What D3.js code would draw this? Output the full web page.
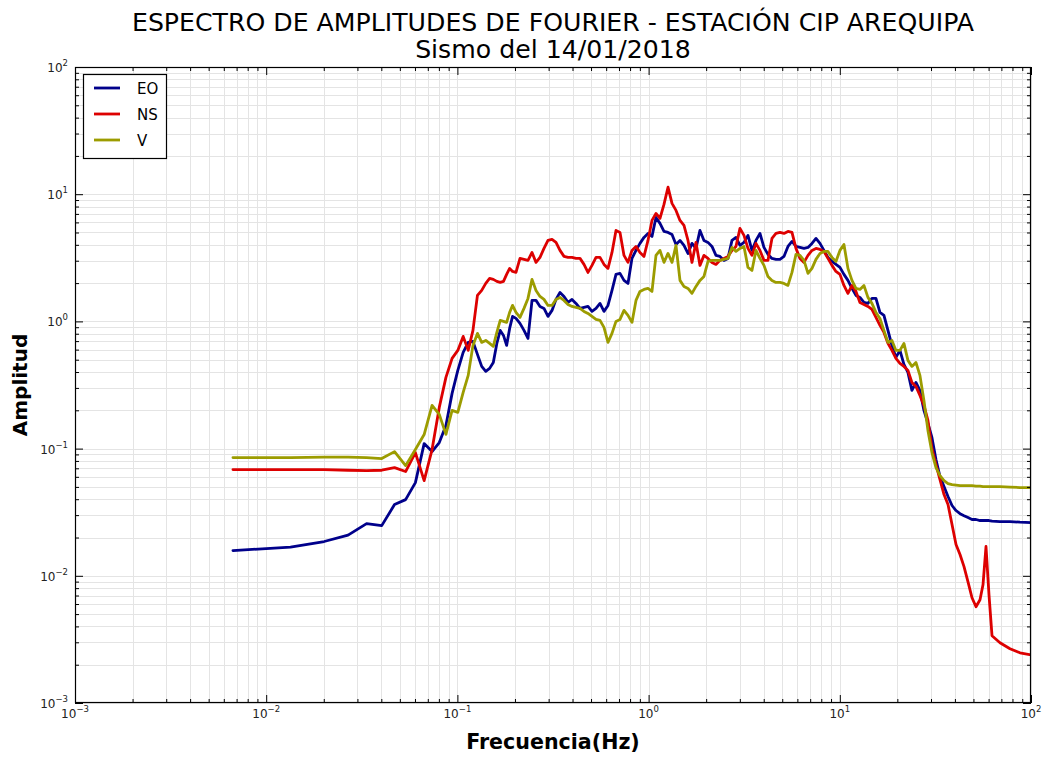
<!DOCTYPE html>
<html><head><meta charset="utf-8">
<script src="https://cdn.jsdelivr.net/npm/d3@7"></script>
<style>body{margin:0;background:#fff} svg{display:block}</style>
</head><body>
<script>
// ---------------- DATA ----------------
const titleLines = ["ESPECTRO DE AMPLITUDES DE FOURIER - ESTACIÓN CIP AREQUIPA", "Sismo del 14/01/2018"];
const xLabel = "Frecuencia(Hz)";
const yLabel = "Amplitud";
const seriesNames = ["EO", "NS", "V"];
const seriesColors = ["#00008b", "#dd0000", "#9c9c00"];
const tickExponents = [-3, -2, -1, 0, 1, 2];

const freq = [0.0067,0.0134,0.0201,0.0268,0.0335,0.0402,0.0469,0.0536,0.0603,0.067,0.0737,0.0804,0.0871,0.0938,0.1005,0.1072,0.1139,0.1206,0.1273,0.134,0.1407,0.1474,0.1541,0.1608,0.1675,0.1742,0.1809,0.1876,0.1943,
0.2025,0.2125,0.2230,0.2340,0.2456,0.2577,0.2704,0.2837,0.2977,0.3125,0.3279,0.3440,0.3610,0.3788,0.3976,0.4171,0.4378,0.4593,0.4819,0.5057,0.5308,0.5569,0.5844,0.6132,0.6435,0.6752,0.7086,0.7436,0.7802,0.8186,0.8590,0.9014,0.9460,0.9927,
1.0416,1.0930,1.1468,1.2036,1.2633,1.3256,1.3909,1.4594,1.5311,1.6069,1.6861,1.7691,1.8563,1.9479,2.0444,2.1451,2.2508,2.3617,2.4785,2.6007,2.7295,2.8642,3.0054,3.1536,3.3090,3.4720,3.6439,3.8236,4.0122,4.2100,4.4176,4.6355,4.8648,5.1050,5.3566,5.6221,5.8991,6.1889,6.4968,6.8170,7.1531,7.5059,7.8753,8.2617,8.6710,9.0994,9.5477,
10.018,10.512,11.030,11.576,12.147,12.745,13.374,14.033,14.724,15.455,16.218,17.017,17.856,18.736,19.658,20.634,21.650,22.716,23.836,25.013,26.248,27.543,28.904,30.330,
31.84,33.42,35.08,36.81,38.63,40.53,42.53,44.63,46.83,49.14,51.57,54.11,56.10,58.16,60.30,62.52,68.82,77.65,87.59,100];

const ampEO = [0.0158,0.0168,0.0186,0.0209,0.0257,0.0248,0.0363,0.0397,0.0540,0.1095,0.0947,0.1115,0.1522,0.2717,0.4120,0.5706,0.6838,0.6963,0.5503,0.4429,0.4046,0.4272,0.4761,0.6716,0.8497,0.7762,0.6477,0.8811,1.0947,
1.0557,0.9645,0.8497,0.7352,1.4626,1.4626,1.3118,1.2655,1.0947,1.2203,1.4894,1.6904,1.5721,1.4105,1.4894,1.3852,1.2655,1.2885,1.3118,1.1985,1.2655,1.3852,1.1985,1.3358,1.7525,2.3418,2.3846,2.1009,1.9889,3.1283,3.6156,4.1050,4.5750,4.9177,
4.6576,6.5690,5.8948,5.0992,5.0085,4.8306,4.0297,4.3328,3.9582,3.4231,4.1050,3.7494,5.1929,4.3328,4.1802,3.8871,3.3030,3.2434,3.0177,3.1283,4.3328,4.5750,3.9582,4.1802,4.7449,3.6156,4.3328,4.9177,3.8180,3.3630,3.1283,3.0725,3.0725,3.2434,3.8871,4.2554,3.8871,3.8180,3.7494,3.8180,4.1050,4.4929,4.1050,3.6156,3.1855,2.9628,2.8064,
2.6582,2.3418,2.1009,1.8171,1.6010,1.5441,1.4105,1.3852,1.5164,1.5164,1.1769,1.1149,0.8497,0.6477,0.5213,0.5916,0.4592,0.3973,0.2868,0.3315,0.2868,0.1997,0.1578,0.1225,
0.0820,0.0603,0.0503,0.0420,0.0357,0.0326,0.0308,0.0297,0.0287,0.0277,0.0277,0.0272,0.0272,0.0272,0.0272,0.0269,0.0267,0.0267,0.0264,0.0262];

const ampNS = [0.0684,0.0684,0.0684,0.0676,0.0672,0.0676,0.0709,0.0660,0.0930,0.0560,0.0982,0.2108,0.3630,0.5119,0.5916,0.7623,0.5916,0.8497,1.6010,1.7525,1.9889,2.1777,2.1390,2.0628,2.0257,2.0628,2.3418,2.6107,2.4716,
2.4272,3.1283,3.0725,3.0177,3.4869,2.9095,3.1855,3.7494,4.3328,4.4129,4.1802,3.6156,3.2434,3.1855,3.1855,3.1283,3.1283,2.8064,2.4272,2.7564,3.1855,3.1855,2.8064,2.6107,3.4869,5.1929,5.0085,3.3030,2.9095,3.6156,3.8871,3.4869,3.2434,4.3328,
6.2230,7.0632,6.4508,8.3157,11.35,8.4642,7.4574,6.2230,5.6852,4.3328,2.9095,4.1802,2.7564,3.3030,3.1283,2.9095,2.8064,3.0177,3.1283,3.2434,3.6156,3.8871,5.3843,4.7449,3.7494,3.3030,4.1050,3.6156,3.0177,3.0177,4.4929,4.9177,5.0085,4.9177,5.0992,5.0085,3.7494,3.1283,2.9095,3.3030,3.6156,3.7494,3.6813,3.5505,3.1283,2.7564,2.4716,
2.3418,1.9187,1.6604,1.9187,1.7213,1.4105,1.3601,1.3118,1.2428,1.0751,0.9302,0.8195,0.6716,0.5916,0.5119,0.4676,0.4429,0.4120,0.3315,0.3084,0.2621,0.2187,0.1666,0.1004,
0.0749,0.0571,0.0435,0.0363,0.0253,0.0176,0.0147,0.0118,0.00897,0.00672,0.00571,0.00648,0.0085,0.0170,0.00709,0.00338,0.00298,0.00267,0.00248,0.00239];

const ampV = [0.0850,0.0850,0.0857,0.0857,0.0850,0.0835,0.0947,0.0735,0.0982,0.1289,0.2187,0.1857,0.1293,0.1997,0.1926,0.2766,0.3763,0.6477,0.8049,0.6838,0.7090,0.6716,0.6361,0.8195,1.0183,1.0,0.9821,1.1769,1.3358,
1.1769,1.0751,1.2655,1.5164,2.1390,1.7525,1.5721,1.4894,1.3358,1.3358,1.4894,1.5441,1.4626,1.3601,1.3118,1.2885,1.2655,1.1985,1.1557,1.0947,1.0369,1.0183,0.8971,0.6838,0.8049,1.0,1.0369,1.2203,1.1149,0.9821,1.4626,1.7213,1.7849,1.8171,
1.7213,3.3030,3.6156,2.9095,3.4231,2.9095,3.9582,2.1009,1.8843,1.8171,1.6604,1.8843,2.1009,2.2579,2.9628,3.0177,3.0177,3.0177,3.0725,3.1283,3.8180,3.5505,3.7494,3.8871,2.6582,2.5168,3.6156,3.1283,2.7564,2.2579,2.1009,2.0257,2.0257,1.9889,1.9187,2.4272,3.3630,3.3030,3.0177,2.3846,2.6107,3.0725,3.4231,3.5505,3.5505,3.1855,2.9628,
3.6156,4.0297,2.6107,2.1009,1.8171,1.7849,1.9187,1.5441,1.3852,1.1769,1.0557,0.8497,0.6838,0.7090,0.5916,0.5916,0.6716,0.4937,0.4429,0.4761,0.3763,0.2393,0.1390,0.0930,
0.0709,0.0614,0.0560,0.0531,0.0521,0.0517,0.0512,0.0512,0.0512,0.0512,0.0507,0.0507,0.0503,0.0503,0.0503,0.0503,0.0503,0.0498,0.0494,0.0494];

// ---------------- CHART ----------------
const W = 1048, H = 758;
const L = 75, R = 1031, T = 67, B = 703;
const FONT = "DejaVu Sans";

const svg = d3.select("body").append("svg").attr("width", W).attr("height", H)
  .style("font-family", FONT);
svg.append("rect").attr("width", W).attr("height", H).attr("fill", "#fff");

const x = d3.scaleLog().domain([1e-3, 1e2]).range([L, R]);
const y = d3.scaleLog().domain([1e-3, 1e2]).range([B, T]);

const majors = tickExponents.map(e => Math.pow(10, e));
const minors = [];
for (let e = tickExponents[0]; e < tickExponents[tickExponents.length - 1]; e++)
  for (let k = 2; k <= 9; k++) minors.push(k * Math.pow(10, e));

// grid
const grid = svg.append("g").attr("stroke", "#e4e4e4").attr("stroke-width", 1).attr("shape-rendering", "crispEdges");
grid.selectAll(".gx").data(minors.concat(majors)).join("line")
  .attr("x1", d => Math.round(x(d)) + 0.5).attr("x2", d => Math.round(x(d)) + 0.5)
  .attr("y1", T).attr("y2", B);
grid.selectAll(".gy").data(minors.concat(majors)).join("line")
  .attr("y1", d => Math.round(y(d)) + 0.5).attr("y2", d => Math.round(y(d)) + 0.5)
  .attr("x1", L).attr("x2", R);

// series
svg.append("clipPath").attr("id", "clip").append("rect")
  .attr("x", L).attr("y", T).attr("width", R - L).attr("height", B - T);
const allAmps = [ampEO, ampNS, ampV];
const line = d3.line().x(d => x(d[0])).y(d => y(d[1]));
allAmps.forEach((amps, i) => {
  const pts = freq.map((f, j) => [f, amps[j]]);
  svg.append("path").datum(pts).attr("clip-path", "url(#clip)")
    .attr("fill", "none").attr("stroke", seriesColors[i]).attr("stroke-width", 2.8)
    .attr("stroke-linejoin", "round").attr("stroke-linecap", "round")
    .attr("d", line);
});

// ticks (inward on all sides)
function ticks(gen, tr, vals, size) {
  const g = svg.append("g").attr("transform", tr)
    .call(gen.tickValues(vals).tickSize(size).tickFormat(""));
  g.select(".domain").remove();
  g.selectAll("line").attr("stroke", "#000");
}
ticks(d3.axisBottom(x), `translate(0,${B})`, majors, -8);
ticks(d3.axisBottom(x), `translate(0,${B})`, minors, -4);
ticks(d3.axisTop(x), `translate(0,${T})`, majors, -8);
ticks(d3.axisTop(x), `translate(0,${T})`, minors, -4);
ticks(d3.axisLeft(y), `translate(${L},0)`, majors, -8);
ticks(d3.axisLeft(y), `translate(${L},0)`, minors, -4);
ticks(d3.axisRight(y), `translate(${R},0)`, majors, -8);
ticks(d3.axisRight(y), `translate(${R},0)`, minors, -4);

// frame
svg.append("rect").attr("x", L + 0.5).attr("y", T + 0.5).attr("width", R - L - 1).attr("height", B - T - 1)
  .attr("fill", "none").attr("stroke", "#000").attr("stroke-width", 1.2);

// tick labels
function expLabel(sel, e) {
  sel.append("tspan").text("10");
  sel.append("tspan").attr("dy", -6).attr("font-size", 8.5).text(e < 0 ? "\u2212" + (-e) : String(e));
}
tickExponents.forEach(e => {
  const v = Math.pow(10, e);
  const tx = svg.append("text").attr("x", x(v)).attr("y", B + 15).attr("text-anchor", "middle")
    .attr("font-size", 12).attr("fill", "#222");
  expLabel(tx, e);
  const ty = svg.append("text").attr("x", L - 7).attr("y", y(v) + 5).attr("text-anchor", "end")
    .attr("font-size", 12).attr("fill", "#222");
  expLabel(ty, e);
});

// axis titles
svg.append("text").attr("x", (L + R) / 2).attr("y", 749).attr("text-anchor", "middle")
  .attr("font-size", 20.6).attr("font-weight", "bold").text(xLabel);
svg.append("text").attr("transform", `translate(27,${(T + B) / 2}) rotate(-90)`).attr("text-anchor", "middle")
  .attr("font-size", 20).attr("font-weight", "bold").text(yLabel);

// title
svg.append("text").attr("x", (L + R) / 2).attr("y", 31).attr("text-anchor", "middle")
  .attr("font-size", 25.2).text(titleLines[0]);
svg.append("text").attr("x", (L + R) / 2).attr("y", 58).attr("text-anchor", "middle")
  .attr("font-size", 25.2).text(titleLines[1]);

// legend
const lg = svg.append("g");
lg.append("rect").attr("x", 83.5).attr("y", 74.5).attr("width", 83).attr("height", 84)
  .attr("fill", "#fff").attr("stroke", "#000").attr("stroke-width", 1.2);
seriesNames.forEach((n, i) => {
  const yy = 88 + i * 26;
  lg.append("line").attr("x1", 94).attr("x2", 120).attr("y1", yy).attr("y2", yy)
    .attr("stroke", seriesColors[i]).attr("stroke-width", 2.8);
  lg.append("text").attr("x", 137).attr("y", yy + 5.5).attr("font-size", 15).text(n);
});
</script>
</body></html>
